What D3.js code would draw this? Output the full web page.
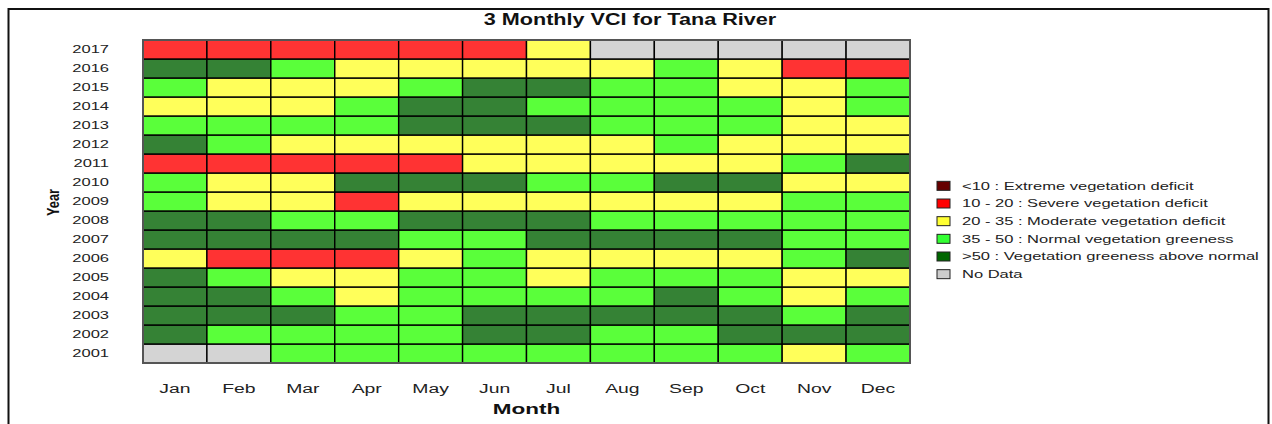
<!DOCTYPE html>
<html>
<head>
<meta charset="utf-8">
<script src="https://cdn.jsdelivr.net/npm/d3@7"></script>
<style>
  body { margin: 0; background: #fff; }
  svg { display: block; font-family: "Liberation Sans", Arial, sans-serif; }
</style>
</head>
<body>
<div id="chart"></div>
<script>
// VCI class per month, Jan..Dec
// x: <10, r: 10-20, y: 20-35, g: 35-50, d: >50, n: no data
const months = ["Jan", "Feb", "Mar", "Apr", "May", "Jun", "Jul", "Aug", "Sep", "Oct", "Nov", "Dec"];
const years = [2001, 2002, 2003, 2004, 2005, 2006, 2007, 2008, 2009, 2010, 2011, 2012, 2013, 2014, 2015, 2016, 2017];

const vci2001 = ["n","n","g","g","g","g","g","g","g","g","y","g"];
const vci2002 = ["d","g","g","g","g","d","d","g","g","d","d","d"];
const vci2003 = ["d","d","d","g","g","d","d","d","d","d","g","d"];
const vci2004 = ["d","d","g","y","g","g","g","g","d","g","y","g"];
const vci2005 = ["d","g","y","y","g","g","y","g","g","g","y","y"];
const vci2006 = ["y","r","r","r","y","g","y","y","y","y","g","d"];
const vci2007 = ["d","d","d","d","g","g","d","d","d","d","g","g"];
const vci2008 = ["d","d","g","g","d","d","d","g","g","g","g","g"];
const vci2009 = ["g","y","y","r","y","y","y","y","y","y","g","g"];
const vci2010 = ["g","y","y","d","d","d","g","g","d","d","y","y"];
const vci2011 = ["r","r","r","r","r","y","y","y","y","y","g","d"];
const vci2012 = ["d","g","y","y","y","y","y","y","g","y","y","y"];
const vci2013 = ["g","g","g","g","d","d","d","g","g","g","y","y"];
const vci2014 = ["y","y","y","g","d","d","g","g","g","g","y","g"];
const vci2015 = ["g","y","y","y","g","d","d","g","g","y","y","g"];
const vci2016 = ["d","d","g","y","y","y","y","y","g","y","r","r"];
const vci2017 = ["r","r","r","r","r","r","y","n","n","n","n","n"];

const rows = [vci2001, vci2002, vci2003, vci2004, vci2005, vci2006, vci2007, vci2008, vci2009,
              vci2010, vci2011, vci2012, vci2013, vci2014, vci2015, vci2016, vci2017];

const classKeys = ["x", "r", "y", "g", "d", "n"];
const classLabels = [
    "<10 : Extreme vegetation deficit",
    "10 - 20 : Severe vegetation deficit",
    "20 - 35 : Moderate vegetation deficit",
    "35 - 50 : Normal vegetation greeness",
    ">50 : Vegetation greeness above normal",
    "No Data"
];

const cellColor = d3.scaleOrdinal()
    .domain(classKeys)
    .range(["#6b0000", "#ff3333", "#ffff5a", "#5aff3a", "#358235", "#d4d4d4"]);
const keyColor = d3.scaleOrdinal()
    .domain(classKeys)
    .range(["#660000", "#ff0000", "#ffff33", "#33ff33", "#006600", "#cccccc"]);

const W = 1272, H = 424;
const plot = { left: 143, right: 910, top: 40, bottom: 363 };

const svg = d3.select("#chart").append("svg")
    .attr("width", W)
    .attr("height", H);

// outer frame
svg.append("rect")
    .attr("x", 8.5).attr("y", 9)
    .attr("width", 1260).attr("height", 440)
    .attr("fill", "none")
    .attr("stroke", "#111")
    .attr("stroke-width", 2);

// stretch text horizontally, the original image is widened
function stretch(sel, k) {
    sel.each(function() {
        var w = this.getComputedTextLength();
        d3.select(this)
            .attr("textLength", w * k)
            .attr("lengthAdjust", "spacingAndGlyphs");
    });
}

var x = d3.scaleBand()
    .domain(months)
    .range([plot.left, plot.right]);

var y = d3.scaleBand()
    .domain(years.slice().reverse())
    .range([plot.top, plot.bottom]);

var cells = [];
rows.forEach(function(r, i) {
    r.forEach(function(c, j) {
        cells.push({ year: years[i], month: months[j], cls: c });
    });
});

svg.append("g")
    .selectAll("rect")
    .data(cells)
    .enter()
    .append("rect")
    .attr("x", d => x(d.month))
    .attr("y", d => y(d.year))
    .attr("width", x.bandwidth())
    .attr("height", y.bandwidth())
    .attr("fill", d => cellColor(d.cls))
    .attr("stroke", "#000")
    .attr("stroke-width", 1.4);

svg.append("rect")
    .attr("x", plot.left)
    .attr("y", plot.top)
    .attr("width", plot.right - plot.left)
    .attr("height", plot.bottom - plot.top)
    .attr("fill", "none")
    .attr("stroke", "#555")
    .attr("stroke-width", 2);

var yAxis = svg.append("g")
    .attr("transform", "translate(" + plot.left + ",0)")
    .call(d3.axisLeft(y).tickSize(0).tickPadding(34));
yAxis.select(".domain").remove();
yAxis.selectAll("text")
    .attr("font-size", 11)
    .attr("fill", "#222")
    .attr("font-family", null);
stretch(yAxis.selectAll("text"), 1.5);

var xAxis = svg.append("g")
    .attr("transform", "translate(0," + plot.bottom + ")")
    .call(d3.axisBottom(x).tickSize(0).tickPadding(21));
xAxis.select(".domain").remove();
xAxis.selectAll("text")
    .attr("font-size", 12.5)
    .attr("fill", "#222")
    .attr("font-family", null);
stretch(xAxis.selectAll("text"), 1.55);

var title = svg.append("text")
    .attr("x", 630)
    .attr("y", 25)
    .attr("text-anchor", "middle")
    .attr("font-size", 16)
    .attr("font-weight", "bold")
    .attr("fill", "#111")
    .text("3 Monthly VCI for Tana River");
stretch(title, 1.35);

var xTitle = svg.append("text")
    .attr("x", (plot.left + plot.right) / 2)
    .attr("y", 414)
    .attr("text-anchor", "middle")
    .attr("font-size", 15)
    .attr("font-weight", "bold")
    .attr("fill", "#111")
    .text("Month");
stretch(xTitle, 1.5);

var yTitle = svg.append("text")
    .attr("transform", "translate(59," + ((plot.top + plot.bottom) / 2 + 1) + ") rotate(-90)")
    .attr("text-anchor", "middle")
    .attr("font-size", 17)
    .attr("font-weight", "bold")
    .attr("fill", "#111")
    .text("Year");
stretch(yTitle, 0.75);

// legend
var ly = d3.scaleBand()
    .domain(classKeys)
    .range([177, 283]);

var legend = svg.append("g")
    .selectAll("g")
    .data(classKeys)
    .enter()
    .append("g")
    .attr("transform", d => "translate(937," + (ly(d) + ly.bandwidth() / 2) + ")");

legend.append("rect")
    .attr("x", 0)
    .attr("y", -4.5)
    .attr("width", 13)
    .attr("height", 9)
    .attr("fill", d => keyColor(d))
    .attr("stroke", "#222")
    .attr("stroke-width", 1);

var legendText = legend.append("text")
    .attr("x", 25)
    .attr("dy", "0.35em")
    .attr("font-size", 11)
    .attr("fill", "#222")
    .text((d, i) => classLabels[i]);
stretch(legendText, 1.5);
</script>
</body>
</html>
